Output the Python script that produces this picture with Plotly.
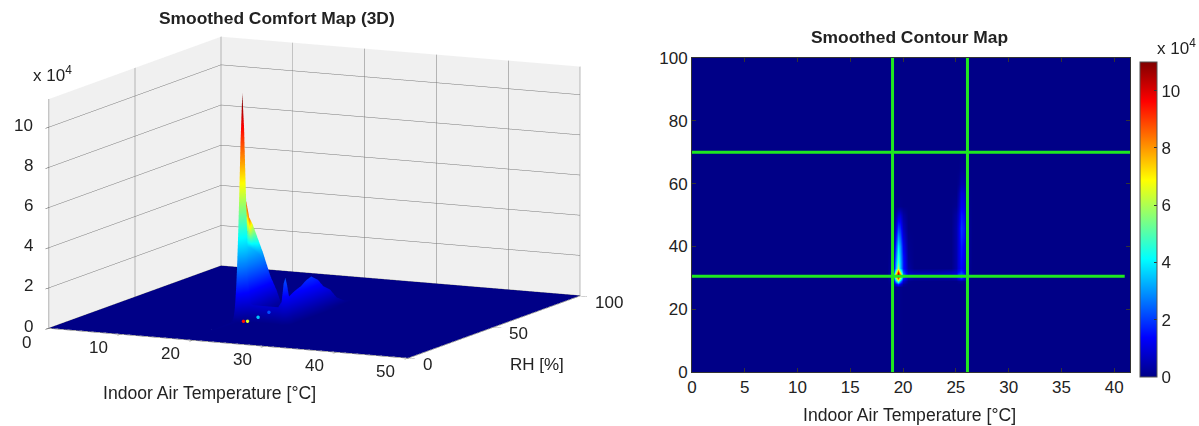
import plotly.graph_objects as go

temperature = [0, 18.5, 19, 19.25, 19.5, 19.75, 20, 20.5, 21, 23, 24.5, 25, 25.25, 25.5, 25.75, 26, 26.5, 27, 50]
humidity = [0, 27, 28, 29, 30, 31, 32, 33, 35, 37, 40, 43, 46, 50, 53, 57, 60, 65, 70, 100]
# comfort values in units of 10^4, one row per humidity value
comfort = [
    [0, 0, 0, 0, 0, 0, 0, 0, 0, 0, 0, 0, 0, 0, 0, 0, 0, 0, 0],
    [0, 0, 0, .05, .1, .05, 0, 0, 0, 0, 0, 0, 0, 0, 0, 0, 0, 0, 0],
    [0, 0, .1, .9, 1.8, 1.1, .2, 0, 0, 0, 0, 0, 0, 0, 0, 0, 0, 0, 0],
    [0, 0, .3, 2.6, 5.5, 3.2, .8, .05, 0, 0, 0, 0, .1, .2, .1, 0, 0, 0, 0],
    [0, 0, .7, 4.6, 9, 6, 1.8, .5, .3, .3, .4, .6, 1.2, 1.8, 1.1, .3, 0, 0, 0],
    [0, 0, 1, 7, 11.3, 9, 2.8, .9, .8, .8, .8, 1.1, 2, 2.3, 1.9, .4, 0, 0, 0],
    [0, 0, .7, 4.6, 9.6, 6.4, 2.2, .6, .4, .4, .6, .8, 1.4, 1.9, 1.3, .4, 0, 0, 0],
    [0, 0, .4, 2.6, 6, 3.6, 1.6, .3, 0, 0, 0, .4, .9, 1.3, 1, .3, 0, 0, 0],
    [0, 0, .3, 2.4, 5, 3.5, 1.6, .2, 0, 0, 0, .4, .9, 1.4, 1.1, .4, 0, 0, 0],
    [0, 0, .2, 2, 4.6, 3.3, 1.5, .15, 0, 0, 0, .4, .9, 1.5, 1.2, .4, 0, 0, 0],
    [0, 0, .1, 1.5, 3.8, 3, 1.2, .1, 0, 0, 0, .4, .9, 1.6, 1.3, .4, 0, 0, 0],
    [0, 0, .05, 1, 3, 2.4, .9, .05, 0, 0, 0, .4, .9, 1.8, 1.5, .4, 0, 0, 0],
    [0, 0, 0, .6, 2.1, 1.8, .6, 0, 0, 0, 0, .4, .9, 1.9, 1.6, .4, 0, 0, 0],
    [0, 0, 0, .15, .8, .9, .3, 0, 0, 0, 0, .3, .7, 1.6, 1.4, .3, 0, 0, 0],
    [0, 0, 0, 0, .03, .05, 0, 0, 0, 0, 0, .1, .5, 1.2, 1.1, .2, 0, 0, 0],
    [0, 0, 0, 0, 0, 0, 0, 0, 0, 0, 0, 0, .3, .9, .8, .1, 0, 0, 0],
    [0, 0, 0, 0, 0, 0, 0, 0, 0, 0, 0, 0, .1, .45, .4, .05, 0, 0, 0],
    [0, 0, 0, 0, 0, 0, 0, 0, 0, 0, 0, 0, 0, .12, .1, 0, 0, 0, 0],
    [0, 0, 0, 0, 0, 0, 0, 0, 0, 0, 0, 0, 0, 0, 0, 0, 0, 0, 0],
    [0, 0, 0, 0, 0, 0, 0, 0, 0, 0, 0, 0, 0, 0, 0, 0, 0, 0, 0],
]
# facets of the 3D ridge are coloured hotter than their height: (humidity, temperature, colour value)
ridge_colours = [(32, 19.5, 9.5), (33, 19.5, 9), (35, 19.5, 8.5), (37, 19.5, 6.5), (40, 19.5, 4.6),
                 (32, 19.25, 6.8), (33, 19.25, 6.6), (35, 19.25, 6)]
speck_t = [20.86, 21.3, 22.7, 24.3]
speck_rh = [26, 26.5, 26.8, 26.4]
speck_z = [.15, .15, .38, .69]
speck_value = [9.5, 6.5, 3.5, 2.2]
temp_limits = [19, 26.1]
rh_limits = [30.5, 70]
x3d_ticks = [0, 10, 20, 30, 40, 50]
y3d_ticks = [0, 50, 100]
z_ticks = [0, 2, 4, 6, 8, 10]
x2d_ticks = [0, 5, 10, 15, 20, 25, 30, 35, 40]
y2d_ticks = [0, 20, 40, 60, 80, 100]

W, H = 1199, 426
FONT = "Liberation Sans"
INK = "#222222"
jet = [[0, "rgb(0,0,135)"], [0.125, "rgb(0,0,255)"], [0.375, "rgb(0,255,255)"],
       [0.625, "rgb(255,255,0)"], [0.875, "rgb(255,0,0)"], [1, "rgb(128,0,0)"]]

tfont = dict(family=FONT, size=17, color=INK)
lfont = dict(family=FONT, size=17.6, color=INK)
hfont = dict(family=FONT, size=17.4, color=INK)

surface_colour = [row[:] for row in comfort]
for rh, t, c in ridge_colours:
    surface_colour[humidity.index(rh)][temperature.index(t)] = c

fig = go.Figure()
fig.add_trace(go.Surface(x=temperature, y=humidity, z=comfort, surfacecolor=surface_colour,
                         colorscale=jet, cmin=0, cmax=11,
                         showscale=False, hoverinfo="skip",
                         lighting=dict(ambient=1, diffuse=0, specular=0, roughness=1, fresnel=0)))
fig.add_trace(go.Scatter3d(x=speck_t, y=speck_rh, z=speck_z, mode="markers", hoverinfo="skip",
                           marker=dict(size=2, color=speck_value, colorscale=jet, cmin=0, cmax=11, line=dict(width=0))))
fig.add_trace(go.Heatmap(x=temperature, y=humidity, z=comfort, colorscale=jet, zmin=0, zmax=11,
                         zsmooth="best", xaxis="x", yaxis="y",
                         colorbar=dict(x=1140 / W, xanchor="left", xpad=0, thickness=17,
                                       y=(H - 377) / H, yanchor="bottom", ypad=0, len=315 / H,
                                       tickvals=z_ticks, ticks="inside", ticklen=3, tickcolor="#333",
                                       tickfont=tfont,
                                       outlinecolor="#555", outlinewidth=1)))
GREEN = "#1fe81f"
for t in temp_limits:
    fig.add_trace(go.Scatter(x=[t, t], y=[0, 100], mode="lines", line=dict(color=GREEN, width=3),
                             showlegend=False, hoverinfo="skip", xaxis="x", yaxis="y"))
fig.add_trace(go.Scatter(x=[0, 41.5], y=[rh_limits[1]] * 2, mode="lines", line=dict(color=GREEN, width=3),
                         showlegend=False, hoverinfo="skip", xaxis="x", yaxis="y"))
fig.add_trace(go.Scatter(x=[0, 41], y=[rh_limits[0]] * 2, mode="lines", line=dict(color=GREEN, width=3),
                         showlegend=False, hoverinfo="skip", xaxis="x", yaxis="y"))

scene_notes = []
for v in x3d_ticks:
    scene_notes.append(dict(x=v, y=0, z=0, text=str(v), showarrow=False, xshift=-22, yshift=-14, font=tfont))
for v in y3d_ticks:
    scene_notes.append(dict(x=50, y=v, z=0, text=str(v), showarrow=False, xanchor="left", xshift=13, yshift=-7, font=tfont))
for v in z_ticks:
    scene_notes.append(dict(x=0, y=0, z=v, text=str(v), showarrow=False, xanchor="right", xshift=-14, yshift=2, font=tfont))

GRID = "#777777"
ax3d = dict(showgrid=True, gridcolor=GRID, gridwidth=1, showbackground=True, backgroundcolor="#f0f0f0",
            showticklabels=False, title=dict(text=""), zeroline=False, showspikes=False,
            ticks="outside", ticklen=8, tickcolor="#444", showline=True, linecolor="#666")
D = 2.0
S = 2.016
fig.update_layout(
    width=W, height=H, margin=dict(l=0, r=0, t=0, b=0, autoexpand=False), paper_bgcolor="white", plot_bgcolor="white",
    showlegend=False, font=dict(family=FONT, size=17, color=INK),
    scene=dict(
        domain=dict(x=[0, 629 / W], y=[(H - 395) / H, 1]),
        aspectmode="manual", aspectratio=dict(x=S, y=S, z=0.585 * S),
        camera=dict(projection=dict(type="orthographic"),
                    eye=dict(x=0.4256 * D, y=-0.888 * D, z=0.1736 * D),
                    center=dict(x=0, y=0, z=0), up=dict(x=0, y=0, z=1)),
        xaxis=dict(ax3d, range=[0, 50], tickvals=x3d_ticks),
        yaxis=dict(ax3d, range=[0, 100], tickvals=y3d_ticks),
        zaxis=dict(ax3d, range=[-0.02, 11.4], tickvals=z_ticks),
        annotations=scene_notes,
    ),
    xaxis=dict(domain=[692 / W, 1130 / W], range=[0, 41.5], tickvals=x2d_ticks, ticks="inside", ticklen=4,
               tickcolor="#333", showline=True, mirror="ticks", linecolor="#333", showgrid=False, zeroline=False,
               tickfont=tfont),
    yaxis=dict(domain=[(H - 372) / H, (H - 58) / H], range=[0, 100], tickvals=y2d_ticks, ticks="inside", ticklen=4,
               tickcolor="#333", showline=True, mirror="ticks", linecolor="#333", showgrid=False, zeroline=False,
               tickfont=tfont),
    annotations=[
        dict(text="<b>Smoothed Comfort Map (3D)</b>", x=277 / W, y=1 - 18 / H, font=hfont),
        dict(text="<b>Smoothed Contour Map</b>", x=910 / W, y=1 - 37 / H, font=hfont),
        dict(text="Indoor Air Temperature [°C]", x=209 / W, y=1 - 393 / H, font=lfont),
        dict(text="Indoor Air Temperature [°C]", x=910 / W, y=1 - 415 / H, font=lfont),
        dict(text="RH [%]", x=537 / W, y=1 - 364 / H, font=tfont),
        dict(text="x 10<sup>4</sup>", x=52 / W, y=1 - 74 / H, font=tfont),
        dict(text="x 10<sup>4</sup>", x=1176 / W, y=1 - 47 / H, font=tfont),
    ],
)
for a in fig.layout.annotations:
    a.update(xref="paper", yref="paper", showarrow=False, xanchor="center", yanchor="middle")

fig.write_html("out.html", config=dict(displayModeBar=False), post_script="document.body.style.margin='0';")
